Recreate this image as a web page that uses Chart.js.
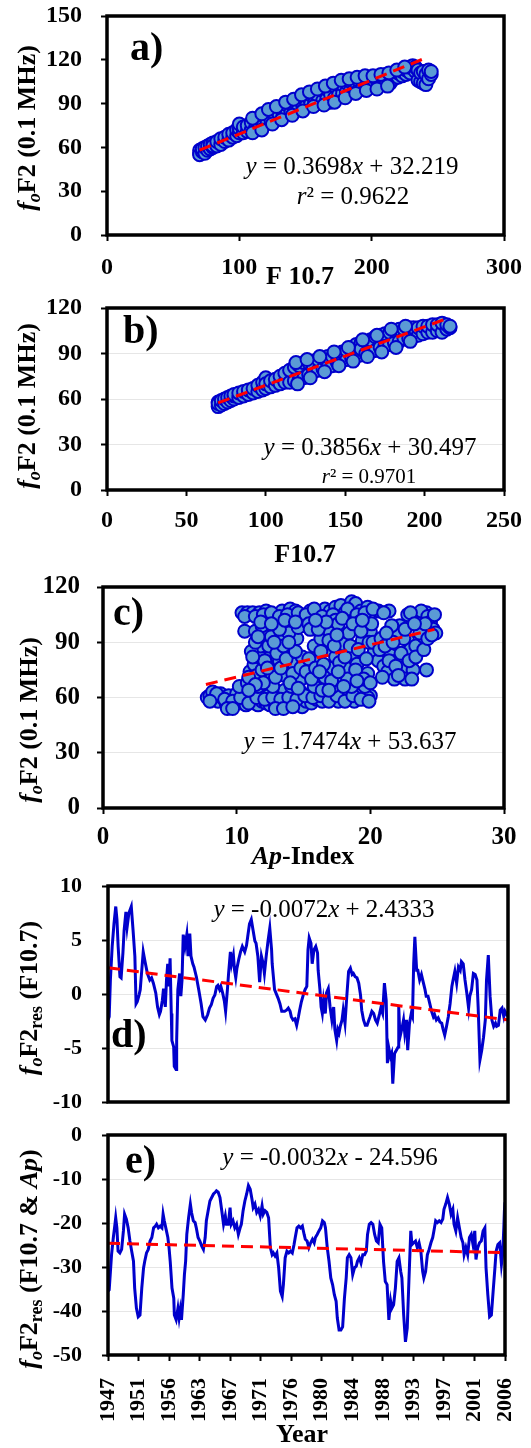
<!DOCTYPE html>
<html>
<head>
<meta charset="utf-8">
<script src="https://cdn.jsdelivr.net/npm/chart.js@4.4.0/dist/chart.umd.min.js"></script>
<style>
  html, body { margin: 0; padding: 0; background: #fff; }
  #wrap { position: relative; width: 531px; height: 1448px; overflow: hidden; }
  #wrap canvas { position: absolute; left: 0; }
</style>
</head>
<body>
<div id="wrap">
  <canvas id="chartA" width="531" height="300" style="top:0px"></canvas>
  <canvas id="chartB" width="531" height="290" style="top:285px"></canvas>
  <canvas id="chartC" width="531" height="310" style="top:560px"></canvas>
  <canvas id="chartD" width="531" height="256" style="top:866px"></canvas>
  <canvas id="chartE" width="531" height="336" style="top:1112px"></canvas>
</div>
<script>
// a) foF2 against F10.7
const scatterA = [[70,56],[70,58],[70,55],[72,57],[72,59],[74,56],[74,60],[76,58],[76,61],[78,59],[78,62],[80,60],[80,63],[80,61],
  [83,61],[83,64],[86,62],[86,66],[89,64],[89,67],[92,65],[92,69],[95,67],[95,70],[98,68],[98,72],[100,70],[100,73],[100,76],
  [103,70],[103,74],[106,71],[106,75],[109,72],[109,77],[112,73],[112,79],[115,74],[115,80],[118,75],[118,82],[121,77],[121,84],
  [124,78],[124,85],[127,80],[127,87],[130,80],[130,86],[130,83],[133,82],[133,88],[136,83],[136,89],[139,84],[139,90],[142,86],
  [142,91],[145,87],[145,93],[148,88],[148,94],[151,89],[151,95],[154,90],[154,96],[157,91],[157,97],[160,90],[160,99],[160,94],
  [163,92],[163,99],[166,93],[166,100],[169,91],[169,101],[169,96],[172,94],[172,102],[175,96],[175,103],[178,97],[178,103],
  [181,98],[181,104],[184,99],[184,105],[187,100],[187,105],[190,99],[190,106],[193,101],[193,106],[196,102],[196,107],[199,101],
  [199,107],[202,102],[202,108],[205,104],[205,108],[208,103],[208,109],[211,105],[211,110],[214,104],[214,110],[217,107],
  [217,111],[220,108],[220,111],[223,109],[223,112],[226,110],[226,113],[229,111],[229,115],[231,114],[231,116],[233,112],
  [233,115],[235,106],[235,113],[237,105],[237,111],[239,104],[239,112],[241,103],[241,110],[243,107],[243,113],[245,110],[245,112],
  [110,80],[117,83],[122,86],[128,88],[135,91],[141,93],[147,96],[153,98],[159,100],[165,102],[171,104],[177,106],[183,107],
  [189,108],[195,109],[201,109],[207,110],[213,111],[219,113],[225,115],
  [110,70],[117,72],[125,76],[132,79],[140,82],[148,85],[156,88],[164,89],[172,91],[180,94],[188,97],[196,99],[204,100],[212,102]];
const fitA = { slope: 0.3698, intercept: 32.219, r2: 0.9622, from: 70, to: 240 };

// b) foF2 against F10.7, second set
const scatterB = [[70,55],[70,58],[70,57],[72,56],[72,59],[74,57],[74,60],[76,58],[76,61],[78,59],[78,62],[80,60],[80,62],[80,63],
  [83,61],[83,64],[86,62],[86,65],[89,63],[89,66],[92,64],[92,67],[95,65],[95,69],[98,66],[98,71],[100,67],[100,74],[100,70],
  [103,68],[103,72],[106,69],[106,73],[109,70],[109,75],[112,71],[112,77],[115,71],[115,79],[118,72],[118,81],[121,73],[121,82],
  [124,74],[124,84],[127,76],[127,84],[130,78],[130,85],[130,81],[133,79],[133,86],[136,80],[136,87],[139,81],[139,88],[142,82],
  [142,88],[145,84],[145,89],[148,85],[148,91],[151,86],[151,92],[154,87],[154,94],[157,88],[157,96],[160,89],[160,97],[160,93],
  [163,90],[163,98],[166,91],[166,99],[169,92],[169,101],[172,94],[172,102],[175,95],[175,103],[178,96],[178,104],[181,97],
  [181,105],[184,98],[184,106],[187,100],[187,106],[190,100],[190,107],[193,101],[193,107],[196,102],[196,107],[199,103],
  [199,108],[202,104],[202,108],[205,104],[205,109],[208,105],[208,109],[211,104],[211,110],[214,106],[214,109],[216,107],[216,108],
  [119,84],[126,86],[134,88],[143,91],[152,94],[161,99],[170,102],[179,106],[188,108],
  [120,70],[128,74],[137,78],[146,82],[155,85],[164,88],[173,91],[182,94],[191,98]];
const fitB = { slope: 0.3856, intercept: 30.497, r2: 0.9701, from: 70, to: 215 };

// c) foF2 against Ap-Index
const scatterC = [[7.8,60],[8.0,61],[8.3,59],[8.6,58],[8.9,60],[9.2,57],[9.5,55],[9.8,56],[10.1,58],[10.4,57],[10.7,56],[11.0,59],
  [11.3,57],[11.6,56],[11.9,58],[12.2,57],[12.5,56],[12.8,58],[13.1,55],[13.4,57],[13.7,56],[14.0,58],[14.3,56],[14.6,57],[14.9,55],
  [15.2,58],[15.6,57],[16.0,59],[16.4,58],[16.8,60],[17.2,59],[17.6,58],[18.0,60],[18.4,59],[18.8,58],[19.2,60],[19.6,61],[20.0,61],
  [8.2,63],[8.8,62],[9.4,61],[10.0,62],[10.6,61],[11.2,62],[11.8,63],[12.4,61],[13.0,62],[13.6,64],[14.2,62],[14.8,63],[15.4,61],
  [16.2,62],[16.6,61],[17.4,63],[18.2,62],[18.8,64],[19.4,62],[19.8,60],
  [8.5,62],[9.1,59],[9.7,58],[10.3,60],[10.9,57],[11.5,60],[12.1,59],[12.7,60],[13.3,59],[13.9,60],[14.5,59],[15.1,61],[15.7,60],
  [16.3,61],[16.9,58],[17.5,61],[18.1,58],[18.7,61],[19.3,59],[19.9,58],[9.3,54],[9.7,54],[12.9,54],[13.5,54],[14.2,55],[8.0,58],
  [10.2,66],[10.8,68],[11.0,74],[11.3,78],[11.5,72],[11.7,82],[11.8,88],[12.0,92],[12.2,96],[12.3,70],[12.5,100],[12.6,85],[12.8,76],
  [12.9,98],[13.1,90],[13.2,80],[13.4,99],[13.5,94],[13.6,72],[13.8,86],[14.0,100],[14.1,66],[14.3,78],[14.5,92],[14.7,69],[14.9,82],
  [15.1,99],[10.6,96],[11.4,96],[12.2,103],[13.0,102],
  [10.9,71],[11.1,85],[11.4,90],[11.6,66],[11.9,75],[12.1,80],[12.4,88],[12.6,93],[12.7,66],[12.9,71],[13.0,84],[13.3,76],[13.5,88],
  [13.7,81],[13.9,95],[14.2,73],[14.4,85],[14.6,98],[14.8,76],[11.2,82],[11.9,99],[12.3,76],[13.2,97],[14.0,68],[12.0,68],[11.4,67],
  [10.9,64],[13.9,90],[12.8,90],[11.6,93],[14.6,65],
  [10.4,106],[10.8,106],[11.2,106],[11.7,106],[12.2,107],[12.8,104],[13.4,107],[14.0,108],[14.4,107],[14.8,104],[15.5,107],[16.0,106],
  [16.6,108],[17.0,107],[17.4,109],[17.8,110],[18.1,106],[18.6,112],[18.9,111],[19.3,107],[19.8,109],[20.6,107],[21.4,107],
  [10.6,104],[11.4,104],[12.0,105],[12.6,106],[13.2,104],[13.8,105],[14.6,106],[15.2,105],[15.8,108],[16.4,104],[17.2,105],[18.3,108],
  [19.0,105],[19.6,106],[20.2,108],[21.0,106],[22.8,105],[23.5,104],[24.2,106],[11.8,101],[12.6,100],[13.6,102],[14.4,101],[15.4,100],
  [16.6,98],[17.4,102],[18.9,99],[19.8,98],
  [15.5,97],[15.8,88],[16.0,80],[16.3,92],[16.6,71],[16.8,86],[17.0,95],[17.2,76],[17.4,82],[17.6,100],[17.8,71],[18.0,89],[18.2,76],
  [18.4,95],[18.6,66],[18.8,84],[19.0,78],[19.2,101],[19.4,91],[19.6,66],[19.8,73],[20.0,96],[15.8,66],[16.4,64],[17.2,66],[15.2,74],
  [20.3,85],[20.6,80],
  [15.4,81],[15.6,70],[15.9,76],[16.1,97],[16.3,85],[16.5,78],[16.7,101],[16.9,91],[17.1,69],[17.3,88],[17.5,94],[17.7,79],[17.9,103],
  [18.1,82],[18.3,70],[18.5,88],[18.7,100],[18.9,75],[19.1,86],[19.3,96],[19.5,70],[19.7,81],[19.9,90],[20.1,100],[15.9,102],[16.9,64],
  [18.0,66],[19.0,69],[17.6,74],[16.2,74],[20.2,90],[19.4,102],[20.0,68],
  [20.8,92],[21.0,77],[21.3,74],[21.5,83],[21.8,70],[22.0,80],[22.2,99],[22.4,76],[22.6,70],[22.8,91],[23.0,86],[23.2,75],[23.4,88],
  [23.6,102],[23.8,107],[24.0,93],[24.2,75],[24.3,104],[24.5,101],[24.7,97],[24.9,95],[24.8,105],[23.0,106],[22.5,92],[21.9,95],
  [20.7,86],[21.1,88],[21.4,80],[21.7,90],[21.9,77],[22.3,84],[22.6,97],[22.9,80],[23.1,70],[23.4,82],[23.7,95],[24.0,86],[24.3,92],
  [24.6,94],[24.1,100],[23.3,100],[21.6,99],[22.1,72],[20.9,71],[21.2,95]];
const fitC = { slope: 1.7474, intercept: 53.637, from: 7.7, to: 24.8 };

// d) foF2 residual after the F10.7 fit, [month, value]
const resF107 = [[1,-2.4],[3,-2.1],[5,1.3],[8,4.4],[11,6.5],[14,8.1],[16,6.9],[18,4.4],[21,1.6],[23,1.5],[26,3.8],[28,5.9],[31,7.6],
  [33,6.2],[36,7.5],[40,8.1],[43,5.9],[46,3.5],[48,-0.9],[50,-0.7],[53,-0.1],[55,0.4],[58,2.5],[60,3.9],[63,3.0],[67,1.9],[71,1.3],
  [74,1.5],[77,1.0],[81,0.1],[84,-1.2],[87,-1.9],[89,-1.6],[92,-0.6],[94,0.5],[97,-1.2],[99,1.3],[101,2.8],[103,0.7],[105,3.3],
  [107,-1.8],[108,-4.3],[111,-4.9],[112,-6.7],[115,-7.0],[116,-4.3],[118,0.4],[121,1.9],[123,-0.2],[125,1.3],[127,5.5],[130,4.4],
  [133,5.5],[135,3.5],[138,5.6],[140,3.5],[143,2.8],[145,2.5],[149,1.6],[153,0.4],[157,-0.9],[160,-2.1],[164,-2.4],[168,-1.9],
  [171,-1.3],[174,-1.0],[177,-0.4],[180,-0.1],[183,0.7],[185,0.8],[188,0.4],[190,0.7],[193,0.1],[196,-0.7],[198,-1.6],[201,0.4],
  [203,1.9],[206,3.9],[208,2.8],[211,3.6],[213,2.2],[215,1.5],[217,2.4],[220,3.2],[223,3.9],[226,4.4],[230,3.9],[233,4.5],[235,5.3],
  [238,6.5],[241,6.9],[244,5.9],[247,4.9],[249,4.7],[252,3.5],[255,1.1],[258,3.5],[261,2.8],[263,1.9],[266,3.5],[269,4.9],[272,6.1],
  [275,4.1],[276,2.8],[280,0.4],[286,-0.4],[289,-0.9],[292,-1.6],[297,-1.6],[300,-1.5],[303,-1.3],[306,-1.6],[308,-2.1],[311,-2.4],
  [314,-2.3],[317,-2.9],[320,-2.1],[322,-1.5],[325,-0.7],[328,-0.1],[331,0.4],[334,0.7],[336,4.1],[338,5.2],[341,4.7],[343,2.8],
  [346,4.1],[349,4.4],[352,3.8],[353,2.2],[356,0.4],[358,-1.2],[360,-1.8],[362,-0.6],[365,-1.8],[367,0.1],[370,0.5],[373,-1.2],
  [376,-2.4],[379,-1.2],[381,-3.3],[384,-4.3],[386,-3.3],[388,-3.6],[390,-3.0],[393,-2.4],[395,-1.5],[398,-2.7],[401,-0.2],[404,2.1],
  [407,2.4],[410,1.8],[412,1.9],[415,1.6],[418,1.5],[421,1.0],[424,-0.1],[426,-1.5],[429,-2.4],[432,-2.9],[435,-2.9],[438,-2.4],
  [440,-2.1],[443,-1.6],[446,-1.8],[449,-2.4],[452,-2.7],[456,-1.8],[458,-1.3],[461,-1.8],[464,1.0],[467,-0.6],[469,-6.4],[471,-4.9],
  [474,-5.8],[476,-5.5],[478,-8.3],[481,-5.5],[484,-5.2],[487,-4.9],[488,-1.2],[490,-4.0],[494,-3.0],[496,-2.4],[498,-3.6],[501,-2.4],
  [503,-5.2],[506,-2.7],[509,-1.8],[511,-2.1],[513,2.8],[515,5.3],[518,2.2],[520,2.2],[523,1.3],[526,1.8],[529,1.1],[532,0.4],
  [534,-0.2],[537,-0.2],[540,-0.9],[543,-1.6],[546,-2.1],[548,-1.9],[551,-2.4],[554,-2.2],[557,-2.6],[560,-2.7],[562,-3.2],[565,-3.8],
  [568,-3.0],[571,-2.1],[574,-0.9],[577,0.7],[579,1.3],[582,2.1],[585,1.0],[588,2.5],[591,2.2],[593,3.0],[596,2.8],[599,1.3],[602,0.1],
  [605,-1.3],[607,-0.2],[610,0.4],[613,1.9],[616,1.8],[619,1.3],[621,-1.2],[624,-6.1],[627,-5.2],[630,-4.0],[633,-2.4],[635,1.3],
  [638,3.6],[641,-0.2],[644,-2.4],[647,-3.0],[650,-2.7],[652,-3.0],[655,-2.9],[658,-1.5],[661,-1.3],[664,-2.1],[666,-1.6],[669,-1.9],
  [671,-1.8]];
const fitD = { slope: -0.0072, intercept: 2.4333, from: 1, to: 671 };

// e) foF2 residual after the F10.7 & Ap fit, [month, value]
const resF107Ap = [[1,-35.5],[3,-35.2],[7,-27.2],[10,-23.3],[12,-21.1],[14,-18.8],[16,-21.1],[18,-26.4],[21,-26.8],[24,-26.0],
  [27,-21.8],[29,-18.0],[32,-19.1],[35,-21.1],[38,-24.1],[41,-26.4],[44,-28.7],[46,-34.8],[49,-39.4],[52,-41.3],[55,-40.9],[58,-34.8],
  [61,-30.2],[63,-28.7],[66,-26.8],[69,-26.0],[72,-24.1],[75,-23.3],[78,-21.1],[81,-20.7],[83,-20.3],[86,-21.1],[89,-20.7],[92,-21.1],
  [94,-18.0],[96,-19.5],[99,-21.4],[102,-23.3],[104,-25.6],[106,-28.7],[109,-34.8],[112,-37.1],[113,-40.9],[116,-42.0],[119,-39.4],
  [121,-41.6],[123,-39.7],[125,-42.0],[128,-36.3],[130,-31.7],[132,-28.7],[134,-22.6],[137,-18.8],[140,-15.7],[142,-17.6],[145,-19.5],
  [148,-19.9],[150,-21.1],[153,-23.3],[156,-24.1],[159,-25.2],[162,-26.0],[165,-23.3],[167,-19.5],[170,-17.2],[173,-15.0],[176,-14.2],
  [179,-13.4],[182,-13.0],[184,-12.7],[187,-13.0],[190,-14.2],[193,-17.2],[196,-20.3],[199,-18.4],[201,-20.3],[204,-20.3],[207,-16.5],
  [209,-20.3],[212,-19.5],[215,-21.1],[218,-20.3],[221,-22.6],[224,-21.1],[226,-20.3],[229,-17.2],[232,-15.0],[235,-13.4],[238,-11.5],
  [241,-12.3],[244,-14.6],[246,-16.5],[249,-15.7],[252,-17.6],[255,-16.9],[258,-18.4],[261,-16.1],[263,-18.0],[266,-17.2],[269,-17.6],
  [272,-18.8],[275,-25.6],[278,-27.2],[280,-26.8],[283,-27.5],[286,-26.8],[289,-30.2],[292,-35.5],[295,-36.7],[297,-34.0],[300,-27.9],
  [303,-26.4],[306,-26.8],[309,-26.4],[312,-26.8],[315,-24.9],[317,-23.3],[320,-21.1],[323,-20.7],[326,-21.1],[329,-20.7],[332,-22.6],
  [334,-23.7],[337,-24.1],[340,-25.6],[343,-24.5],[346,-23.7],[349,-24.5],[351,-23.3],[354,-22.6],[357,-21.8],[360,-21.1],[363,-19.5],
  [366,-19.9],[368,-21.1],[371,-25.6],[374,-28.7],[377,-32.5],[380,-34.0],[383,-36.3],[386,-37.8],[388,-41.6],[391,-44.3],[394,-44.3],
  [397,-43.6],[400,-37.1],[403,-32.5],[405,-27.9],[408,-27.2],[411,-27.9],[414,-31.7],[417,-30.2],[420,-29.8],[422,-28.7],[425,-27.9],
  [428,-29.1],[431,-27.2],[434,-27.2],[437,-26.4],[439,-22.6],[442,-20.3],[445,-19.9],[448,-20.3],[451,-22.6],[454,-24.1],[457,-24.5],
  [460,-20.3],[463,-21.1],[466,-28.7],[469,-33.3],[472,-34.0],[475,-42.0],[478,-37.8],[480,-39.4],[483,-38.6],[486,-34.8],[489,-28.7],
  [492,-27.9],[495,-31.0],[497,-32.5],[500,-40.9],[503,-47.0],[506,-43.9],[509,-32.5],[512,-21.8],[514,-24.9],[517,-24.5],[520,-24.1],
  [523,-25.6],[526,-24.5],[529,-26.4],[532,-31.0],[534,-32.5],[537,-31.0],[540,-27.2],[543,-26.0],[546,-24.5],[549,-23.3],[551,-21.8],
  [554,-19.5],[557,-19.9],[560,-19.5],[563,-19.9],[566,-19.1],[568,-16.9],[571,-15.7],[574,-14.2],[577,-15.7],[580,-18.0],[583,-16.9],
  [585,-20.3],[588,-21.8],[591,-18.8],[594,-21.1],[597,-23.3],[600,-24.5],[602,-27.2],[605,-25.6],[608,-27.2],[611,-23.3],[614,-22.6],
  [617,-24.9],[620,-21.8],[622,-28.3],[625,-25.6],[628,-24.5],[631,-24.1],[634,-21.8],[637,-21.1],[639,-30.2],[642,-36.3],[645,-41.3],
  [648,-40.9],[651,-35.5],[654,-30.2],[656,-26.4],[659,-24.9],[662,-24.5],[665,-29.4],[667,-27.2],[669,-21.1],[670,-17.2],[671,-15.3]];
const fitE = { slope: -0.0032, intercept: -24.596, from: 1, to: 671 };

const yearLabels = ['1947', '1951', '1956', '1963', '1967', '1971', '1976', '1980', '1984', '1988', '1993', '1997', '2001', '2006'];

const SERIF = '"Liberation Serif", "Times New Roman", serif';
const font = (size, style) => ((style || '') + ' ' + size + 'px ' + SERIF).trim();
const toXY = pairs => pairs.map(([x, y]) => ({ x, y }));
const trendPoints = f => [f.from, f.to].map(x => ({ x, y: f.slope * x + f.intercept }));

// text pieces
function eqParts(f, size) {
  return [
    { text: 'y', font: font(size, 'italic') },
    { text: ' = ' + f.slope, font: font(size) },
    { text: 'x', font: font(size, 'italic') },
    { text: (f.intercept < 0 ? ' - ' : ' + ') + Math.abs(f.intercept), font: font(size) }
  ];
}
function r2Parts(f, size) {
  return [
    { text: 'r', font: font(size, 'italic') },
    { text: '\u00b2 = ' + f.r2, font: font(size) }
  ];
}
function fofParts(size, rest) {
  return [
    { text: 'f', font: font(size, 'italic bold') },
    { text: 'o', font: font(Math.round(size * 0.68), 'italic bold'), shift: size * 0.3 },
    { text: 'F2', font: font(size, 'bold') }
  ].concat(rest);
}
const sub = (text, size) => ({ text, font: font(Math.round(size * 0.68), 'bold'), shift: size * 0.3 });
const bold = (text, size) => ({ text, font: font(size, 'bold') });

// draws mixed-style text (axis titles, equations, panel letters)
function textLayer(items) {
  return {
    id: 'textLayer',
    afterDraw(chart) {
      const ctx = chart.ctx;
      items.forEach(item => {
        ctx.save();
        ctx.translate(item.x, item.y);
        if (item.rotate) ctx.rotate(-Math.PI / 2);
        ctx.fillStyle = '#000';
        ctx.textBaseline = 'middle';
        ctx.textAlign = 'left';
        let total = 0;
        item.parts.forEach(p => { ctx.font = p.font; total += ctx.measureText(p.text).width; });
        let cx = item.align === 'left' ? 0 : -total / 2;
        item.parts.forEach(p => {
          ctx.font = p.font;
          ctx.fillText(p.text, cx, p.shift || 0);
          cx += ctx.measureText(p.text).width;
        });
        ctx.restore();
      });
    }
  };
}

// heavy box round the plot area
const frame = {
  id: 'frame',
  afterDatasetsDraw(chart) {
    const { ctx, chartArea: a } = chart;
    ctx.save();
    ctx.strokeStyle = '#000';
    ctx.lineWidth = 3.5;
    ctx.strokeRect(a.left, a.top, a.right - a.left, a.bottom - a.top);
    ctx.restore();
  }
};

function yAxis(o) {
  return {
    min: o.min, max: o.max,
    ticks: { stepSize: o.step, color: '#000', padding: o.pad, font: { family: SERIF, size: o.size, weight: 'bold' } },
    grid: {
      color: '#e6e6e6', lineWidth: 1, drawOnChartArea: o.gridLines !== false,
      tickColor: '#000', tickWidth: 2, tickLength: 6
    },
    border: { display: false },
    afterFit: s => { s.width = o.width; s.paddingTop = 0; s.paddingBottom = 0; }
  };
}
function xAxis(o) {
  return {
    type: 'linear', min: o.min, max: o.max,
    ticks: {
      stepSize: o.step, color: '#000', padding: o.pad, autoSkip: false,
      minRotation: o.rotation || 0, maxRotation: o.rotation || 0,
      font: { family: SERIF, size: o.size, weight: 'bold' },
      callback: o.callback
    },
    afterBuildTicks: o.afterBuildTicks,
    grid: { drawOnChartArea: false, tickColor: '#000', tickWidth: 2, tickLength: 6 },
    border: { display: false },
    afterFit: s => { s.height = o.height; s.paddingLeft = 0; s.paddingRight = 0; }
  };
}

const trendStyle = { borderColor: '#ff0000', borderWidth: 3, borderDash: [12, 7], pointRadius: 0, fill: false };

function scatterChart(id, points, fit, o) {
  return new Chart(document.getElementById(id), {
    type: 'scatter',
    data: {
      datasets: [
        Object.assign({ data: trendPoints(fit), showLine: true, order: 0 }, trendStyle),
        { data: toXY(points), backgroundColor: '#5b9bd5', borderColor: '#0000cc', borderWidth: 2, pointRadius: 6.5, order: 1 }
      ]
    },
    options: {
      responsive: false, animation: false, events: [],
      layout: { autoPadding: false, padding: { left: 0, right: 531 - o.right, top: o.top, bottom: 0 } },
      scales: { x: o.x, y: o.y },
      plugins: { legend: { display: false }, tooltip: { enabled: false } }
    },
    plugins: [frame, textLayer(o.text)]
  });
}

function lineChart(id, pairs, fit, o) {
  return new Chart(document.getElementById(id), {
    type: 'line',
    data: {
      datasets: [
        Object.assign({ data: trendPoints(fit), order: 0 }, trendStyle),
        { data: toXY(pairs), borderColor: '#0000cc', borderWidth: 3, pointRadius: 0, tension: 0, fill: false, order: 1 }
      ]
    },
    options: {
      responsive: false, animation: false, events: [],
      layout: { autoPadding: false, padding: { left: 0, right: 531 - o.right, top: o.top, bottom: o.bottom || 0 } },
      scales: { x: o.x, y: o.y },
      plugins: { legend: { display: false }, tooltip: { enabled: false } }
    },
    plugins: [frame, textLayer(o.text)]
  });
}

// a)
scatterChart('chartA', scatterA, fitA, {
  right: 504, top: 16,
  x: xAxis({ min: 0, max: 300, step: 100, size: 24, pad: 12, height: 65 }),
  y: yAxis({ min: 0, max: 150, step: 30, size: 24, pad: 19, width: 107, gridLines: false }),
  text: [
    { x: 130, y: 50, align: 'left', parts: [bold('a)', 40)] },
    { x: 352, y: 167, parts: eqParts(fitA, 25) },
    { x: 353, y: 197, parts: r2Parts(fitA, 25) },
    { x: 300, y: 277, parts: [bold('F 10.7', 26)] },
    { x: 28, y: 128, rotate: true, parts: fofParts(26, [bold(' (0.1 MHz)', 26)]) }
  ]
});

// b)
scatterChart('chartB', scatterB, fitB, {
  right: 504, top: 23,
  x: xAxis({ min: 0, max: 250, step: 50, size: 24, pad: 10, height: 85 }),
  y: yAxis({ min: 0, max: 120, step: 30, size: 24, pad: 19, width: 107 }),
  text: [
    { x: 123, y: 48, align: 'left', parts: [bold('b)', 40)] },
    { x: 370, y: 163, parts: eqParts(fitB, 25) },
    { x: 369, y: 192, parts: r2Parts(fitB, 21) },
    { x: 305, y: 270, parts: [bold('F10.7', 26)] },
    { x: 28, y: 121, rotate: true, parts: fofParts(26, [bold(' (0.1 MHz)', 26)]) }
  ]
});

// c)
scatterChart('chartC', scatterC, fitC, {
  right: 504, top: 27,
  x: xAxis({ min: 0, max: 30, step: 10, size: 25, pad: 9, height: 62 }),
  y: yAxis({ min: 0, max: 120, step: 30, size: 25, pad: 17, width: 103 }),
  text: [
    { x: 113, y: 55, align: 'left', parts: [bold('c)', 40)] },
    { x: 350, y: 182, parts: eqParts(fitC, 25) },
    { x: 303, y: 297, parts: [{ text: 'Ap', font: font(26, 'italic bold') }, bold('-Index', 26)] },
    { x: 30, y: 160, rotate: true, parts: fofParts(26, [bold(' (0.1 MHz)', 26)]) }
  ]
});

// d)
lineChart('chartD', resF107, fitD, {
  right: 508, top: 20, bottom: 20,
  x: { type: 'linear', min: 1, max: 671, display: false },
  y: yAxis({ min: -10, max: 10, step: 5, size: 22, pad: 20, width: 108 }),
  text: [
    { x: 111, y: 171, align: 'left', parts: [bold('d)', 40)] },
    { x: 324, y: 44, parts: eqParts(fitD, 25) },
    { x: 30, y: 132, rotate: true, parts: fofParts(26, [sub('res', 26), bold(' (F10.7)', 26)]) }
  ]
});

// e)
lineChart('chartE', resF107Ap, fitE, {
  right: 505, top: 23,
  x: xAxis({
    min: 1, max: 671, size: 22, pad: 17, height: 93, rotation: 90,
    afterBuildTicks: s => {
      const n = yearLabels.length - 1;
      s.ticks = yearLabels.map((_, i) => ({ value: s.min + (s.max - s.min) * i / n }));
    },
    callback: (v, i) => yearLabels[i]
  }),
  y: yAxis({ min: -50, max: 0, step: 10, size: 22, pad: 20, width: 108 }),
  text: [
    { x: 125, y: 51, align: 'left', parts: [bold('e)', 40)] },
    { x: 330, y: 46, parts: eqParts(fitE, 25) },
    { x: 302, y: 323, parts: [bold('Year', 26)] },
    { x: 30, y: 147, rotate: true, parts: fofParts(26, [sub('res', 26), bold(' (F10.7 & ', 26),
      { text: 'Ap', font: font(26, 'italic bold') }, bold(')', 26)]) }
  ]
});
</script>
</body>
</html>
